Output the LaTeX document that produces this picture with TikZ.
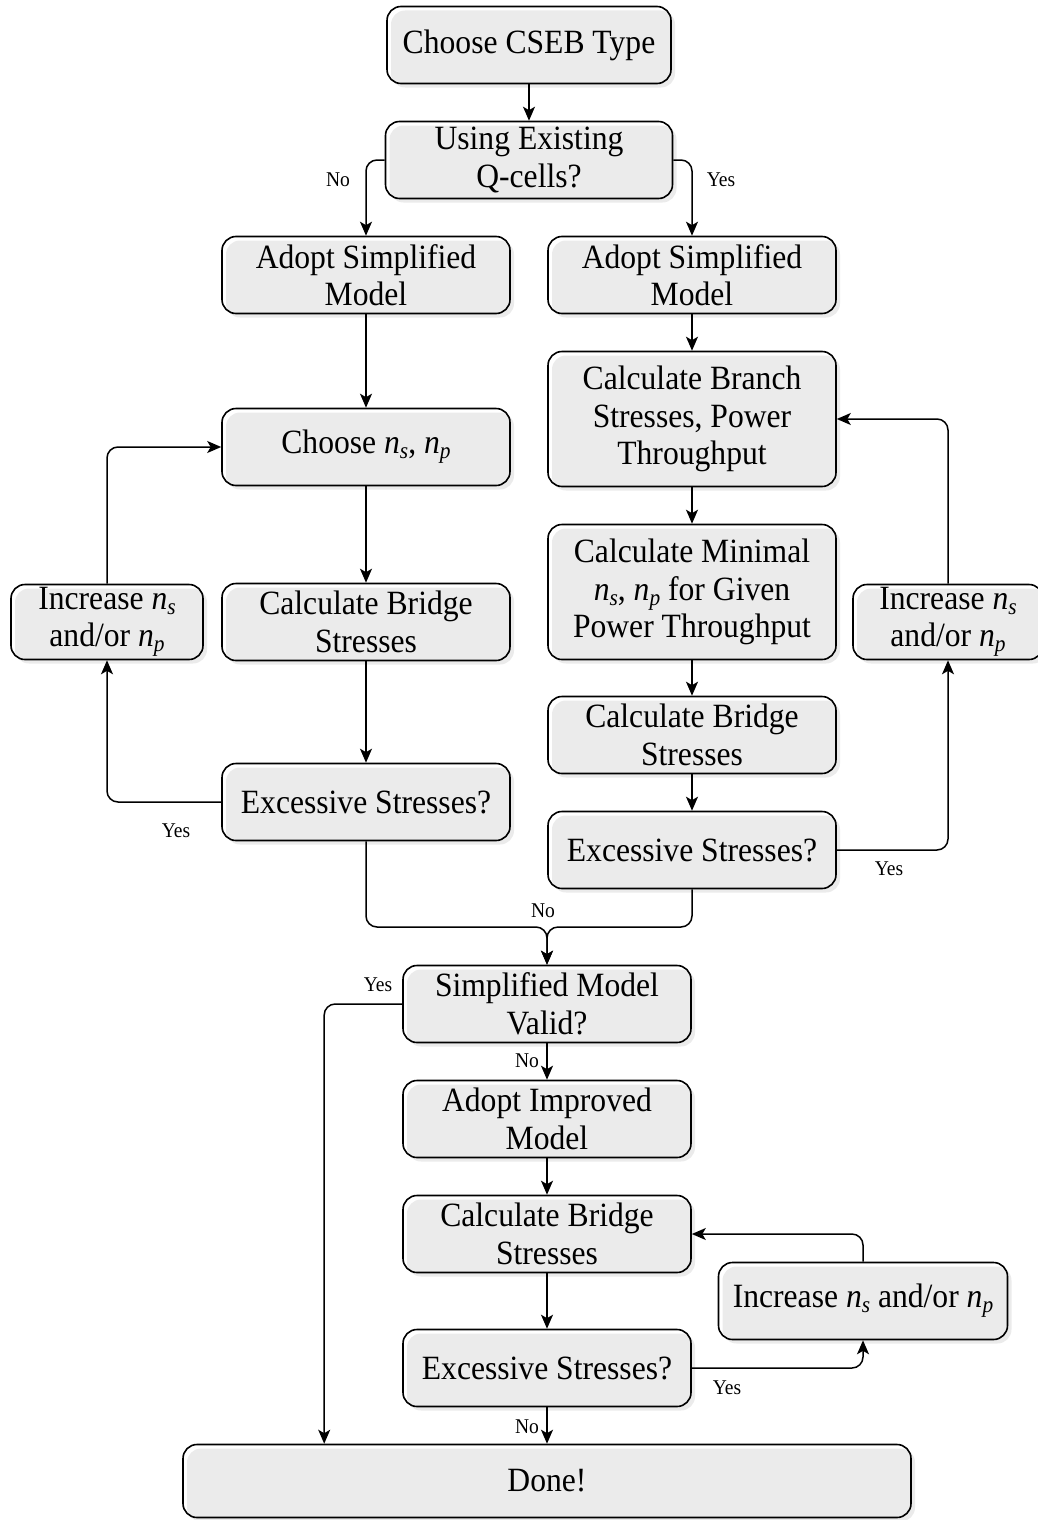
\documentclass[tikz,border=0pt]{standalone}
\usepackage{fontspec}
\setmainfont[FakeStretch=0.93]{Liberation Serif}
\usetikzlibrary{arrows.meta,shadows,calc}

\definecolor{boxfill}{HTML}{EBEBEB}
% italic n with an italic index
\newcommand\nidx[1]{\textit{n}\raisebox{-0.32ex}{\fontsize{23}{23}\selectfont\textit{#1}}}

\tikzset{
  flowbox/.style={draw=black, line width=1.6pt, rounded corners=14pt,
    general shadow={fill=boxfill, shadow xshift=4pt, shadow yshift=-4pt},
    minimum width=288pt, minimum height=77pt, inner sep=0pt, align=center,
    font=\fontsize{34}{37.5}\selectfont},
  arr/.style={line width=1.5pt, -{Stealth[length=14pt,width=12pt,inset=3.5pt]},
    rounded corners=11pt},
  lbl/.style={font=\fontsize{21}{24}\selectfont, inner sep=1pt}
}

\begin{document}
\begin{tikzpicture}[x=1pt, y=-1pt]
\useasboundingbox (0,0) rectangle (1038,1520);

% process boxes
\node[flowbox, minimum width=284pt] (type) at (529,45) {Choose CSEB Type};
\node[flowbox, minimum width=287pt] (qcell) at (529,160) {Using Existing\\Q-cells?};
\node[flowbox] (simL) at (366,275) {Adopt Simplified\\Model};
\node[flowbox] (simR) at (692,275) {Adopt Simplified\\Model};
\node[flowbox] (chooseN) at (366,447) {Choose \nidx{s}, \nidx{p}};
\node[flowbox, minimum height=135pt] (branch) at (692,419) {Calculate Branch\\Stresses, Power\\Throughput};
\node[flowbox, minimum width=192pt, minimum height=75pt] (incL) at (107,622) {Increase \nidx{s}\\and/or \nidx{p}};
\node[flowbox] (bridgeL) at (366,622) {Calculate Bridge\\Stresses};
\node[flowbox, minimum height=135pt] (minimal) at (692,592) {Calculate Minimal\\\nidx{s}, \nidx{p} for Given\\Power Throughput};
\node[flowbox, minimum width=190pt, minimum height=75pt] (incR) at (948,622) {Increase \nidx{s}\\and/or \nidx{p}};
\node[flowbox] (bridgeR) at (692,735) {Calculate Bridge\\Stresses};
\node[flowbox] (excL) at (366,802) {Excessive Stresses?};
\node[flowbox] (excR) at (692,850) {Excessive Stresses?};
\node[flowbox] (valid) at (547,1004) {Simplified Model\\Valid?};
\node[flowbox] (improved) at (547,1119) {Adopt Improved\\Model};
\node[flowbox] (bridgeB) at (547,1234) {Calculate Bridge\\Stresses};
\node[flowbox, minimum width=289pt] (incB) at (863,1301) {Increase \nidx{s} and/or \nidx{p}};
\node[flowbox] (excB) at (547,1368) {Excessive Stresses?};
\node[flowbox, minimum width=728pt, minimum height=73pt] (done) at (547,1481) {Done!};

\coordinate (merge) at (547,927);

% connectors
\draw[arr] (type) -- (qcell);
\draw[arr] (qcell.west) -| (simL.north);
\draw[arr] (qcell.east) -| (simR.north);

\draw[arr] (simL) -- (chooseN);
\draw[arr] (chooseN) -- (bridgeL);
\draw[arr] (bridgeL) -- (excL);
\draw[arr] (excL.west) -| (incL.south);
\draw[arr] (incL.north) |- (chooseN.west);

\draw[arr] (simR) -- (branch);
\draw[arr] (branch) -- (minimal);
\draw[arr] (minimal) -- (bridgeR);
\draw[arr] (bridgeR) -- (excR);
\draw[arr] (excR.east) -| (incR.south);
\draw[arr] (incR.north) |- (branch.east);

\draw[arr] (excL.south) |- (merge) -- (valid.north);
\draw[arr] (excR.south) |- (merge) -- (valid.north);

\draw[arr] (valid.west) -| ($(done.north west)+(142,0)$);
\draw[arr] (valid) -- (improved);
\draw[arr] (improved) -- (bridgeB);
\draw[arr] (bridgeB) -- (excB);
\draw[arr] (excB.east) -| (incB.south);
\draw[arr] (incB.north) |- (bridgeB.east);
\draw[arr] (excB) -- (done);

% branch labels
\node[lbl] (l1) at (338,180) {No};
\node[lbl] (l2) at (721,180) {Yes};
\node[lbl] (l3) at (176,831) {Yes};
\node[lbl] (l4) at (889,869) {Yes};
\node[lbl] (l5) at (543,911) {No};
\node[lbl] (l6) at (378,985) {Yes};
\node[lbl] (l7) at (527,1061) {No};
\node[lbl] (l8) at (727,1388) {Yes};
\node[lbl] (l9) at (527,1427) {No};
\end{tikzpicture}
\end{document}
